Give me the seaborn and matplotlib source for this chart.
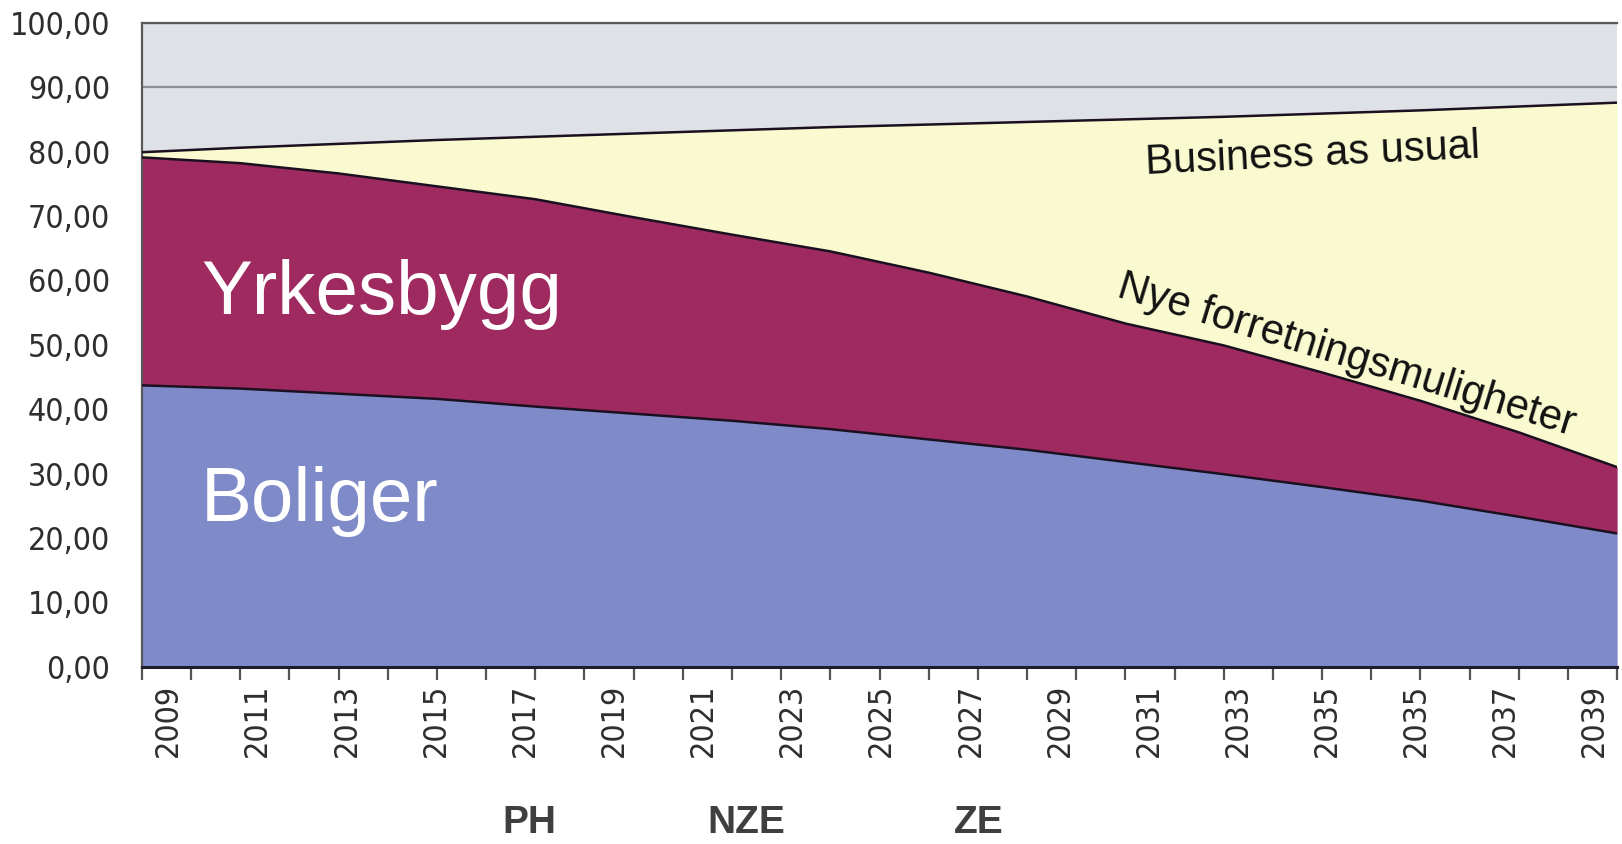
import numpy as np
import pandas as pd
import seaborn as sns
import matplotlib.pyplot as plt
from matplotlib.ticker import FuncFormatter

# values (every other year)
years = [2009, 2011, 2013, 2015, 2017, 2019, 2021, 2023,
         2025, 2027, 2029, 2031, 2033, 2035, 2037, 2039]
boliger = [43.7, 43.2, 42.4, 41.6, 40.4, 39.3, 38.2, 36.9,
           35.3, 33.7, 31.8, 29.9, 27.9, 25.8, 23.3, 20.7]
yrkesbygg = [35.4, 35.0, 34.2, 33.0, 32.2, 30.5, 28.9, 27.6,
             25.9, 23.8, 21.5, 20.0, 17.8, 15.5, 13.1, 10.3]
nye_forretning = [0.8, 2.4, 4.6, 7.2, 9.7, 13.0, 16.2, 19.3,
                  23.0, 27.1, 31.7, 35.5, 40.2, 45.1, 50.6, 56.6]

# axis labels as printed in the original (note the doubled 2035)
x_tick_labels = ["2009", "2011", "2013", "2015", "2017", "2019", "2021", "2023",
                 "2025", "2027", "2029", "2031", "2033", "2035", "2035", "2037", "2039"]
y_ticks = [0, 10, 20, 30, 40, 50, 60, 70, 80, 90, 100]
milestones = ["PH", "NZE", "ZE"]

df = pd.DataFrame({"year": years, "Boliger": boliger,
                   "Yrkesbygg": yrkesbygg, "Nye": nye_forretning})
df["top_bolig"] = df["Boliger"]
df["top_yrkes"] = df["top_bolig"] + df["Yrkesbygg"]
df["top_bau"] = df["top_yrkes"] + df["Nye"]

sns.set_style("white")
plt.rcParams["font.family"] = ["Liberation Sans", "DejaVu Sans"]

fig = plt.figure(figsize=(16.22, 8.44), dpi=100)
ax = fig.add_axes([0.0875, 0.21, 0.9095, 0.763])
ax.set_facecolor("#dee1e5")

ax.fill_between(df["year"], 0, df["top_bolig"], color="#7f8ac8", lw=0, zorder=2)
ax.fill_between(df["year"], df["top_bolig"], df["top_yrkes"], color="#9e2a5f", lw=0, zorder=2)
ax.fill_between(df["year"], df["top_yrkes"], df["top_bau"], color="#fafad0", lw=0, zorder=2)

for col in ["top_bolig", "top_yrkes", "top_bau"]:
    sns.lineplot(data=df, x="year", y=col, color="#1b1020", lw=1.8, ax=ax, zorder=3)

ax.set_xlim(2009, 2039)
ax.set_ylim(0, 100)
ax.set_axisbelow(True)
ax.yaxis.grid(True, color="#8b8e92", lw=1.6)
ax.set_xlabel("")
ax.set_ylabel("")

tick_family = ["DejaVu Sans"]
tick_stretch = "condensed"

ax.set_yticks(y_ticks)
ax.yaxis.set_major_formatter(FuncFormatter(lambda v, p: f"{v:.2f}".replace(".", ",")))
ax.set_xticks(range(2009, 2040))
ax.set_xticklabels([])
ax.tick_params(axis="both", length=9, width=1.6, color="#555555", direction="out")
ax.tick_params(axis="y", pad=14, labelsize=23, labelcolor="#2e2e2e")
for lab in ax.get_yticklabels():
    lab.set_family(tick_family)
    lab.set_stretch(tick_stretch)

for side in ["left", "top"]:
    ax.spines[side].set_color("#5a5a5a")
    ax.spines[side].set_linewidth(1.6)
ax.spines["bottom"].set_color("#1e1e2a")
ax.spines["bottom"].set_linewidth(2.2)
ax.spines["right"].set_visible(False)

# printed year labels, spread evenly under the axis
ax2 = ax.twiny()
ax2.set_xlim(-0.3, 16.25)
ax2.set_xticks(range(len(x_tick_labels)))
ax2.set_xticklabels(x_tick_labels, rotation=90, fontsize=23, color="#2e2e2e",
                    family=tick_family, stretch=tick_stretch)
ax2.xaxis.set_ticks_position("bottom")
ax2.tick_params(axis="x", length=0, pad=12, labelbottom=True, labeltop=False)
for s in ax2.spines.values():
    s.set_visible(False)

# labels inside the areas
ax.text(2010.2, 57.8, "Yrkesbygg", color="white", fontsize=55, va="center", ha="left", zorder=5)
ax.text(2010.2, 25.7, "Boliger", color="white", fontsize=55, va="center", ha="left", zorder=5)
ax.text(2032.8, 79.5, "Business as usual", color="#111111", fontsize=30,
        va="center", ha="center", rotation=2.8, zorder=5)
ax.text(2033.5, 48.4, "Nye forretningsmuligheter", color="#111111", fontsize=30,
        va="center", ha="center", rotation=-17, rotation_mode="anchor", zorder=5)

for name, xf in zip(milestones, [0.2624, 0.4094, 0.5675]):
    ax.text(xf, -0.243, name, transform=ax.transAxes, fontsize=28, fontweight="bold",
            color="#3f3f3f", ha="center", va="center")

fig.savefig("out.png", dpi=100)
